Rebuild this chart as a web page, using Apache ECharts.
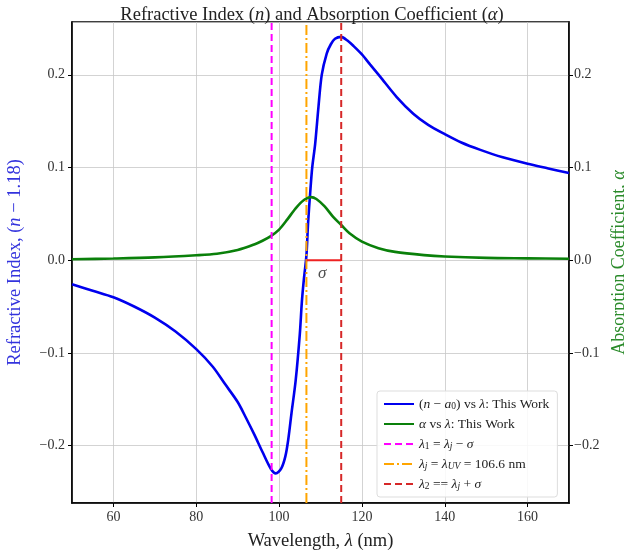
<!DOCTYPE html>
<html><head><meta charset="utf-8">
<script src="https://cdn.jsdelivr.net/npm/echarts@6/dist/echarts.min.js"></script>
<style>html,body{margin:0;padding:0;background:#fff}#c{width:624px;height:554px}</style>
</head><body><div id="c"></div>
<script>
// Refractive index (n - 1.18) vs wavelength
const blueX = [50,55,60,65,70,75,80,84,87,90,92,94,96,98,99.2,100.5,101.5,102.2,103,104,105,105.5,106,106.6,107,107.5,108,108.7,109.5,110.3,111.5,112.5,113.5,115,116.5,118,120,122,124.4,128.4,132.4,136,140,144,148.6,154,160,165,170];
const blueY = [-0.026,-0.033,-0.040,-0.050,-0.062,-0.077,-0.096,-0.115,-0.134,-0.153,-0.170,-0.188,-0.207,-0.225,-0.230,-0.225,-0.212,-0.194,-0.165,-0.130,-0.080,-0.045,-0.020,0.005,0.040,0.072,0.100,0.125,0.165,0.200,0.223,0.233,0.239,0.241,0.237,0.231,0.222,0.211,0.198,0.176,0.158,0.146,0.136,0.127,0.119,0.111,0.104,0.099,0.094];
// Absorption coefficient vs wavelength
const greenX = [50,60,70,80,85,90,94,96,98,100,102,104,106,107.7,109,111,113,115,117,120,124,128,135,140,150,160,170];
const greenY = [0.001,0.0018,0.003,0.0053,0.007,0.011,0.017,0.021,0.026,0.033,0.044,0.056,0.065,0.068,0.066,0.058,0.047,0.038,0.029,0.020,0.013,0.009,0.0055,0.004,0.0025,0.002,0.0015];
// Vertical reference wavelengths
const lambdaJ = 106.6;
const sigma = 8.4;
const lambda1 = 98.2;
const lambda2 = 115.0;
const yMin = -0.262, yMax = 0.257;
const xMin = 50, xMax = 170;
const sigmaLabelPos = [110.4, -0.014];

const serif = 'Liberation Serif';
const zip = (xs, ys) => xs.map((x, i) => [x, ys[i]]);
const vline = x => [[x, yMin], [x, yMax]];

const legendText = {
  'blue': '({i|n} − {i|a}{s|0}) vs {i|λ}: This Work',
  'green': '{i|α} vs {i|λ}: This Work',
  'l1': '{i|λ}{s|1} = {i|λ}{si|j} − {i|σ}',
  'lj': '{i|λ}{si|j} = {i|λ}{si|UV} = 106.6 nm',
  'l2': '{i|λ}{s|2} == {i|λ}{si|j} + {i|σ}'
};
const minusFmt = v => (Math.abs(v) < 1e-9 ? '0.0' : v.toFixed(1).replace('-', '−'));

const chart = echarts.init(document.getElementById('c'), null, {renderer: 'canvas'});
chart.setOption({
  animation: false,
  backgroundColor: '#fff',
  title: {
    text: 'Refractive Index ({i|n}) and Absorption Coefficient ({i|α})',
    left: 'center', top: 1,
    textStyle: {fontFamily: serif, fontSize: 18.5, fontWeight: 'normal', color: '#222',
      rich: {i: {fontFamily: serif, fontSize: 18.5, fontStyle: 'italic', color: '#222'}}}
  },
  grid: {left: 72, right: 55, top: 22, bottom: 51, show: true, borderColor: '#000', borderWidth: 1.5,
    containLabel: false, outerBoundsMode: 'none'},
  legend: {
    orient: 'vertical', left: 377, top: 391,
    itemWidth: 30, itemHeight: 12, itemGap: 6,
    padding: [6, 8, 6, 6],
    backgroundColor: 'rgba(255,255,255,0.85)', borderColor: '#ddd', borderWidth: 1, borderRadius: 3,
    itemStyle: {opacity: 0},
    data: ['blue', 'green', 'l1', 'lj', 'l2'],
    formatter: n => legendText[n],
    textStyle: {fontFamily: serif, fontSize: 13.5, color: '#222',
      rich: {
        i: {fontFamily: serif, fontSize: 13.5, fontStyle: 'italic', color: '#222'},
        s: {fontFamily: serif, fontSize: 9.5, color: '#222', verticalAlign: 'bottom', lineHeight: 12},
        si: {fontFamily: serif, fontSize: 9.5, fontStyle: 'italic', color: '#222', verticalAlign: 'bottom', lineHeight: 12}
      }}
  },
  xAxis: {
    type: 'value', min: xMin, max: xMax, splitNumber: 6,
    name: 'Wavelength, {i|λ} (nm)', nameLocation: 'middle', nameGap: 29,
    nameTextStyle: {fontFamily: serif, fontSize: 18.5, color: '#222', rich: {i: {fontFamily: serif, fontSize: 18.5, fontStyle: 'italic', color: '#222'}}},
    axisLine: {onZero: false, lineStyle: {color: '#000', width: 1.5}},
    axisTick: {show: true, length: 4, lineStyle: {color: '#000'}},
    axisLabel: {fontFamily: serif, fontSize: 14, color: '#333', margin: 7, showMinLabel: false, showMaxLabel: false},
    splitLine: {show: true, lineStyle: {color: '#c8c8c8', width: 0.8}}
  },
  yAxis: [{
    type: 'value', min: yMin, max: yMax, splitNumber: 5,
    name: 'Refractive Index, ({i|n} − 1.18)', nameLocation: 'middle', nameGap: 47, nameRotate: 90,
    nameTextStyle: {fontFamily: serif, fontSize: 18.5, color: '#3333dd', rich: {i: {fontFamily: serif, fontSize: 18.5, fontStyle: 'italic', color: '#3333dd'}}},
    axisLine: {show: true, onZero: false, lineStyle: {color: '#000', width: 1.5}},
    axisTick: {show: true, length: 4, lineStyle: {color: '#000'}},
    axisLabel: {fontFamily: serif, fontSize: 14, color: '#333', margin: 7, formatter: minusFmt, showMinLabel: false, showMaxLabel: false},
    splitLine: {show: true, lineStyle: {color: '#c8c8c8', width: 0.8}}
  }, {
    type: 'value', min: yMin, max: yMax, splitNumber: 5, position: 'right',
    name: 'Absorption Coefficient, {i|α}', nameLocation: 'middle', nameGap: 32, nameRotate: 90,
    nameTextStyle: {fontFamily: serif, fontSize: 18, color: '#2a8a2a', rich: {i: {fontFamily: serif, fontSize: 18, fontStyle: 'italic', color: '#2a8a2a'}}},
    axisLine: {show: true, onZero: false, lineStyle: {color: '#000', width: 1.5}},
    axisTick: {show: true, length: 4, lineStyle: {color: '#000'}},
    axisLabel: {fontFamily: serif, fontSize: 14, color: '#333', margin: 5, formatter: minusFmt, showMinLabel: false, showMaxLabel: false},
    splitLine: {show: false}
  }],
  series: [
    {name: 'blue', type: 'line', data: zip(blueX, blueY), smooth: 0.3, showSymbol: false, symbol: 'none',
      lineStyle: {color: '#0000ee', width: 2.6}, itemStyle: {color: '#0000ee'}, z: 3},
    {name: 'green', type: 'line', yAxisIndex: 1, data: zip(greenX, greenY), smooth: 0.3, showSymbol: false, symbol: 'none',
      lineStyle: {color: '#0a800a', width: 2.6}, itemStyle: {color: '#0a800a'}, z: 3},
    {name: 'l1', type: 'line', data: vline(lambda1), showSymbol: false, symbol: 'none',
      lineStyle: {color: '#ff00ff', width: 2, type: [7, 4]}, itemStyle: {color: '#ff00ff'}, z: 4},
    {name: 'lj', type: 'line', data: vline(lambdaJ), showSymbol: false, symbol: 'none',
      lineStyle: {color: '#ffa500', width: 2, type: [10, 3, 2, 3]}, itemStyle: {color: '#ffa500'}, z: 4},
    {name: 'l2', type: 'line', data: vline(lambda2), showSymbol: false, symbol: 'none',
      lineStyle: {color: '#d62728', width: 2, type: [7, 4]}, itemStyle: {color: '#d62728'}, z: 4},
    {name: 'sigmaSeg', type: 'line', data: [[lambdaJ, 0], [lambdaJ + sigma, 0]], showSymbol: false, symbol: 'none',
      lineStyle: {color: '#ee2222', width: 2}, z: 5, silent: true},
    {name: 'sigmaLabel', type: 'scatter', data: [sigmaLabelPos], symbolSize: 0, silent: true,
      label: {show: true, position: 'inside', formatter: 'σ', fontFamily: serif, fontSize: 17, fontStyle: 'italic', color: '#222'}}
  ]
});
</script></body></html>
